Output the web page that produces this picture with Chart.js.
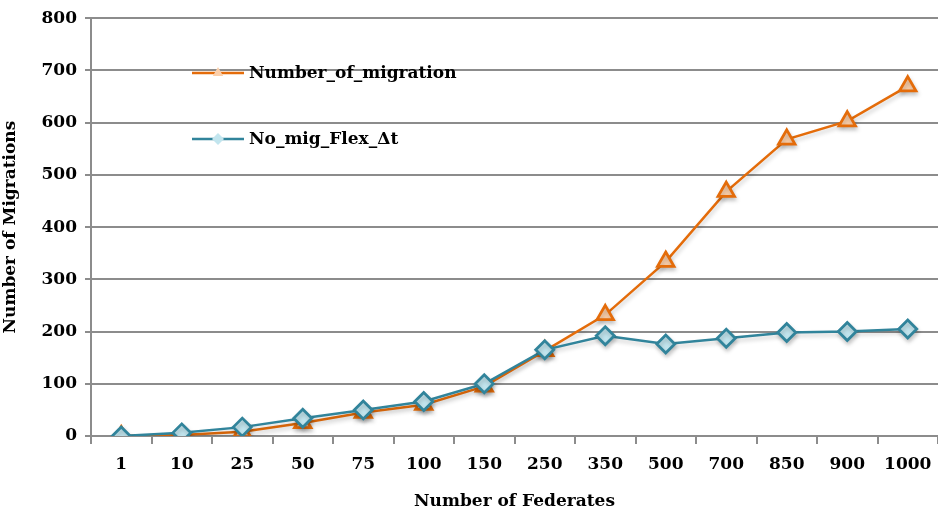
<!DOCTYPE html>
<html>
<head>
<meta charset="utf-8">
<script src="https://cdn.jsdelivr.net/npm/chart.js@4"></script>
<style>
  html, body { margin: 0; padding: 0; background: #fff; overflow: hidden; }
  canvas { display: block; }
</style>
</head>
<body>
<canvas id="migChart" width="938" height="512"></canvas>
<script>
const federates = ['1', '10', '25', '50', '75', '100', '150', '250', '350', '500', '700', '850', '900', '1000'];
const numberOfMigration = [0, 2, 8, 25, 45, 60, 95, 163, 232, 334, 468, 568, 603, 670];
const noMigFlex = [0, 6, 17, 34, 50, 66, 100, 165, 192, 176, 187, 198, 200, 205];
const yTicks = [0, 100, 200, 300, 400, 500, 600, 700, 800];

const FONT = '"DejaVu Serif", "Liberation Serif", serif';
const gridGray = '#8c8c8c';

// legend drawn inside the plot area, like the original
const insideLegend = {
    id: 'insideLegend',
    afterDraw(chart) {
        const ctx = chart.ctx;
        const rows = [73, 139];
        chart.data.datasets.forEach((ds, i) => {
            const y = rows[i];
            ctx.save();
            ctx.strokeStyle = ds.borderColor;
            ctx.lineWidth = 2.5;
            ctx.beginPath();
            ctx.moveTo(192, y);
            ctx.lineTo(244, y);
            ctx.stroke();
            ctx.fillStyle = ds.pointBackgroundColor;
            ctx.strokeStyle = ds.pointBorderColor;
            ctx.lineWidth = 2.5;
            Chart.helpers.drawPoint(ctx, { pointStyle: ds.pointStyle, radius: 6, rotation: 0 }, 218, y);
            ctx.fillStyle = '#000';
            ctx.font = 'bold 17px ' + FONT;
            ctx.textBaseline = 'middle';
            ctx.fillText(ds.label, 249, y + 1);
            ctx.restore();
        });
    }
};

// soft drop shadow under the lines and markers
const markerShadow = {
    id: 'markerShadow',
    beforeDatasetsDraw(chart) {
        const ctx = chart.ctx;
        ctx.save();
        ctx.shadowColor = 'rgba(0,0,0,0.2)';
        ctx.shadowBlur = 4;
        ctx.shadowOffsetX = 1;
        ctx.shadowOffsetY = 3;
    },
    afterDatasetsDraw(chart) {
        chart.ctx.restore();
    }
};

const ctx = document.getElementById('migChart').getContext('2d');
new Chart(ctx, {
    type: 'line',
    data: {
        labels: federates,
        datasets: [{
            label: 'Number_of_migration',
            data: numberOfMigration,
            order: 1,
            borderColor: '#e46c0a',
            borderWidth: 2.5,
            pointStyle: 'triangle',
            pointRadius: 9.5,
            pointBorderWidth: 2.8,
            pointBackgroundColor: '#fbcfaa',
            pointBorderColor: '#e46c0a',
            tension: 0
        }, {
            label: 'No_mig_Flex_Δt',
            data: noMigFlex,
            order: 0,
            borderColor: '#31849b',
            borderWidth: 2.5,
            pointStyle: 'rectRot',
            pointRadius: 9,
            pointBorderWidth: 2.8,
            pointBackgroundColor: '#c2e5ee',
            pointBorderColor: '#31849b',
            tension: 0
        }]
    },
    options: {
        responsive: false,
        animation: false,
        layout: { autoPadding: false, padding: { top: 18, right: 0, left: 0, bottom: 0 } },
        plugins: {
            legend: { display: false },
            tooltip: { enabled: false }
        },
        scales: {
            x: {
                offset: true,
                grid: {
                    offset: true,
                    drawOnChartArea: false,
                    drawTicks: true,
                    tickLength: 8,
                    color: gridGray,
                    lineWidth: 2
                },
                border: { color: gridGray, width: 2 },
                ticks: {
                    color: '#000',
                    font: { family: FONT, size: 17, weight: 'bold' },
                    padding: 10,
                    maxRotation: 0
                },
                title: {
                    display: true,
                    text: 'Number of Federates',
                    color: '#000',
                    font: { family: FONT, size: 17, weight: 'bold' },
                    padding: { top: 8, bottom: 0 }
                },
                afterFit(scale) {
                    scale.height = 76;
                    scale.paddingRight = 0;
                    scale.paddingLeft = 0;
                }
            },
            y: {
                min: 0,
                max: 800,
                afterBuildTicks(scale) { scale.ticks = yTicks.map(v => ({ value: v })); },
                grid: {
                    color: gridGray,
                    lineWidth: 2,
                    tickLength: 6
                },
                border: { color: gridGray, width: 2 },
                ticks: {
                    color: '#000',
                    font: { family: FONT, size: 17, weight: 'bold' },
                    padding: 8
                },
                title: {
                    display: true,
                    text: 'Number of Migrations',
                    color: '#000',
                    font: { family: FONT, size: 17, weight: 'bold' },
                    padding: { top: 0, bottom: 2 }
                },
                afterFit(scale) { scale.width = 91; }
            }
        }
    },
    plugins: [markerShadow, insideLegend]
});
</script>
</body>
</html>
